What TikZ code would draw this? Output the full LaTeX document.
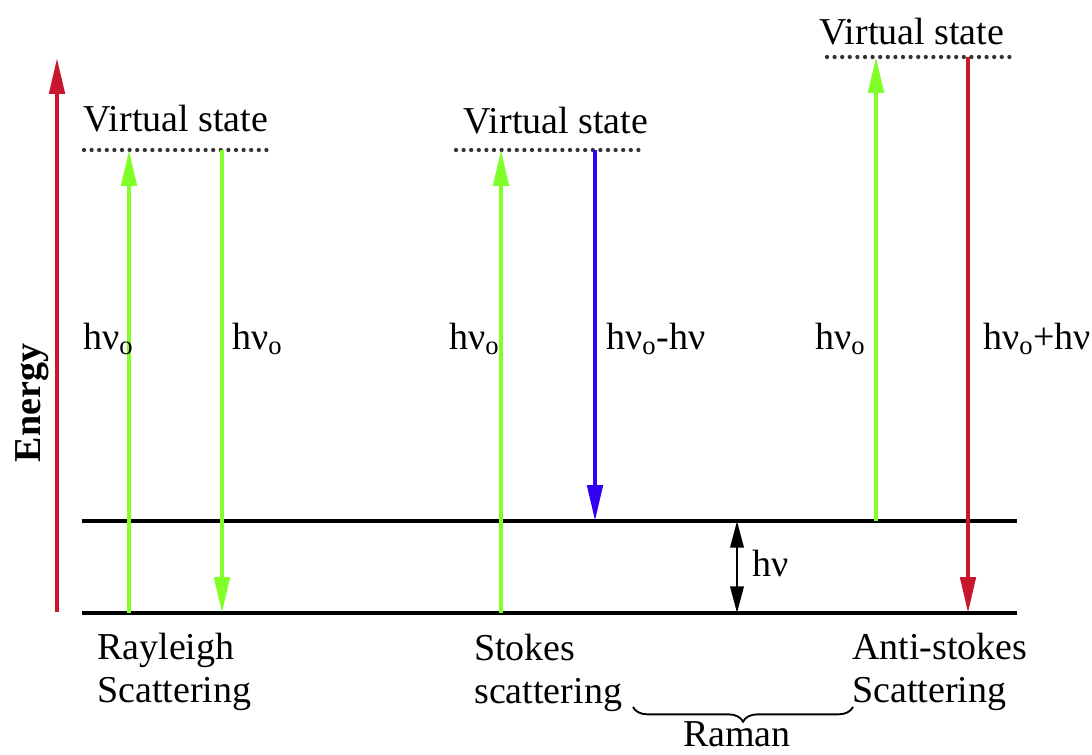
\documentclass[tikz,border=0pt]{standalone}
\usepackage{fontspec}
\setmainfont{Liberation Serif}
\usepackage{xcolor}
\usetikzlibrary{arrows.meta,decorations.pathreplacing}
\definecolor{lightgreen}{RGB}{128,255,40}
\definecolor{darkred}{RGB}{200,22,44}
\definecolor{violetblue}{RGB}{50,0,240}
\newcommand{\hnu}{hν\textsubscript{o}}

\begin{document}
\begin{tikzpicture}[x=0.75pt, y=-0.75pt, >={Triangle[length=27pt, width=11.5pt]},
  level/.style={line width=2.3pt},
  virtual/.style={line width=3.2pt, dash pattern=on 0pt off 5.7pt, line cap=round, black!80},
  photon/.style={line width=3pt, ->},
  label/.style={font=\fontsize{28.5}{32}\selectfont, inner sep=0pt, anchor=base west}]
\useasboundingbox (0,0) rectangle (1092,755);
% energy axis
\coordinate (eBot) at (57,612);
\coordinate (eTop) at (57,58);
\draw[photon, darkred] (eBot) -- (eTop);
\node[font=\fontsize{28.5}{32}\selectfont\bfseries, inner sep=0pt, rotate=90, anchor=base] (energy) at (40,403) {Energy};
% levels
\coordinate (g0) at (82,613); \coordinate (g1) at (1017,613);
\coordinate (v0) at (82,521); \coordinate (v1) at (1017,521);
\draw[level] (g0) -- (g1);
\draw[level] (v0) -- (v1);
% virtual states
\coordinate (rayV0) at (84,150); \coordinate (rayV1) at (270,150);
\coordinate (stoV0) at (456,150); \coordinate (stoV1) at (644,150);
\coordinate (antV0) at (827,57); \coordinate (antV1) at (1015,57);
\draw[virtual] (rayV0) -- (rayV1);
\draw[virtual] (stoV0) -- (stoV1);
\draw[virtual] (antV0) -- (antV1);
\node[label, anchor=base] (rayVS) at (176,132) {Virtual state};
\node[label, anchor=base] (stoVS) at (556,134) {Virtual state};
\node[label, anchor=base] (antVS) at (912,45) {Virtual state};
% Rayleigh
\coordinate (ray1a) at (129,613); \coordinate (ray1b) at (129,150);
\coordinate (ray2a) at (222,150); \coordinate (ray2b) at (222,613);
\draw[photon, lightgreen] (ray1a) -- (ray1b);
\draw[photon, lightgreen] (ray2a) -- (ray2b);
\node[label] (ray1l) at (83,350) {\hnu};
\node[label] (ray2l) at (232,350) {\hnu};
% Stokes
\coordinate (sto1a) at (501,613); \coordinate (sto1b) at (501,150);
\coordinate (sto2a) at (595,150); \coordinate (sto2b) at (595,521);
\draw[photon, lightgreen] (sto1a) -- (sto1b);
\draw[photon, violetblue] (sto2a) -- (sto2b);
\node[label] (sto1l) at (449,350) {\hnu};
\node[label] (sto2l) at (606,350) {\hnu-hν};
% anti-Stokes
\coordinate (ant1a) at (876,521); \coordinate (ant1b) at (876,57);
\coordinate (ant2a) at (968,57); \coordinate (ant2b) at (968,613);
\draw[photon, lightgreen] (ant1a) -- (ant1b);
\draw[photon, darkred] (ant2a) -- (ant2b);
\node[label] (ant1l) at (815,350) {\hnu};
\node[label] (ant2l) at (983,350) {\hnu+hν};
% vibrational gap
\coordinate (gapTop) at (737,521); \coordinate (gapBot) at (737,613);
\draw[line width=2pt, {Triangle[length=20pt, width=10pt]}-{Triangle[length=20pt, width=10pt]}] (gapTop) -- (gapBot);
\node[label] (gapl) at (752,576) {hν};
% names
\node[label, align=left] (rayName) at (97,702) {Rayleigh\\Scattering};
\node[label, align=left] (stoName) at (474,703) {Stokes\\scattering};
\node[label, align=left] (antName) at (852,702) {Anti-stokes\\Scattering};
% Raman brace
\coordinate (ramL) at (633,707); \coordinate (ramR) at (853,707);
\draw[decorate, decoration={brace, mirror, amplitude=11pt}, line width=1.4pt] (ramL) -- (ramR);
\node[label, anchor=base] (raman) at (737,746) {Raman};
\end{tikzpicture}
\end{document}
